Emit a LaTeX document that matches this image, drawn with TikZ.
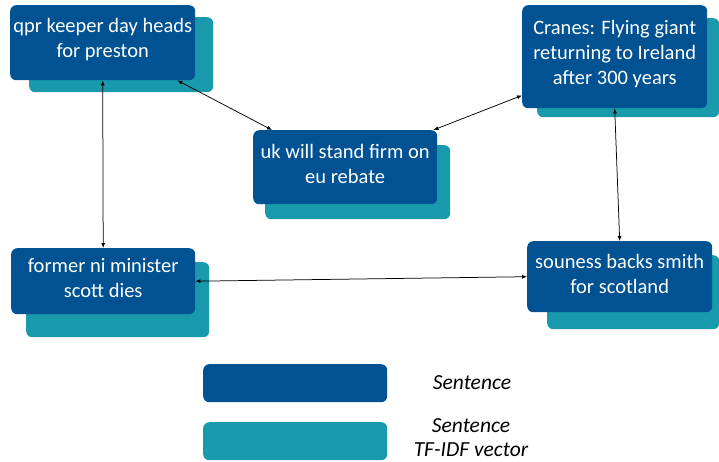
\documentclass[tikz,border=0pt]{standalone}
\usepackage{fontspec}
\setmainfont{Carlito}
\usetikzlibrary{arrows.meta}
\definecolor{sentblue}{RGB}{0,82,147}
\definecolor{vecteal}{RGB}{24,153,172}
\tikzset{
  boxbase/.style={rectangle, rounded corners=6pt, inner sep=0pt, anchor=north west},
  sentbox/.style={boxbase, fill=sentblue},
  sentlabel/.style={text=white, align=center, font=\fontsize{20.5}{25}\selectfont, yshift=3pt, inner sep=0pt},
  vecbox/.style={boxbase, fill=vecteal},
  link/.style={black, line width=0.75pt, {Latex[length=5pt,width=4pt]}-{Latex[length=5pt,width=4pt]}},
  legtext/.style={font=\fontsize{21.5}{24}\selectfont\itshape, align=center}
}
\begin{document}
\begin{tikzpicture}[x=1pt,y=-1pt]
\useasboundingbox (0,0) rectangle (719,461);
% shadows (TF-IDF vectors)
\node[vecbox, minimum width=184pt, minimum height=75pt] (qv) at (29,17) {};
\node[vecbox, minimum width=182pt, minimum height=99pt] (cv) at (537,18) {};
\node[vecbox, minimum width=185pt, minimum height=74pt] (uv) at (265,145) {};
\node[vecbox, minimum width=183pt, minimum height=75pt] (fv) at (26,262) {};
\node[vecbox, minimum width=172pt, minimum height=74pt] (sv) at (547,255) {};
% sentences
\node[sentbox, minimum width=185pt, minimum height=75pt,
  label={[sentlabel]center:{qpr keeper day heads\\for preston}}] (q) at (10,5) {};
\node[sentbox, minimum width=185pt, minimum height=103pt,
  label={[sentlabel]center:{Cranes: Flying giant\\returning to Ireland\\after 300 years}}] (c) at (522,5) {};
\node[sentbox, minimum width=184pt, minimum height=74pt,
  label={[sentlabel]center:{uk will stand firm on\\eu rebate}}] (u) at (253,130) {};
\node[sentbox, minimum width=184pt, minimum height=66pt,
  label={[sentlabel]center:{former ni minister\\scott dies}}] (f) at (11,248) {};
\node[sentbox, minimum width=185pt, minimum height=71pt,
  label={[sentlabel]center:{souness backs smith\\for scotland}}] (s) at (527,241) {};
% connectors
\draw[link] (q.south) -- (f.north);
\draw[link] ([xshift=-18pt]q.south east) -- ([xshift=19pt]u.north west);
\draw[link] ([yshift=13pt]c.south west) -- ([xshift=-4pt]u.north east);
\draw[link] (c.south) -- (s.north);
\draw[link] (f.east) -- (s.west);
% legend
\node[boxbase, fill=sentblue, minimum width=184pt, minimum height=38pt] (ls) at (203,364) {};
\node[boxbase, fill=vecteal, minimum width=184pt, minimum height=38pt] (lv) at (203,422) {};
\node[legtext] (lst) at (472,383) {Sentence};
\node[legtext] (lvt) at (471,438) {Sentence\\TF-IDF vector};
\end{tikzpicture}
\end{document}
